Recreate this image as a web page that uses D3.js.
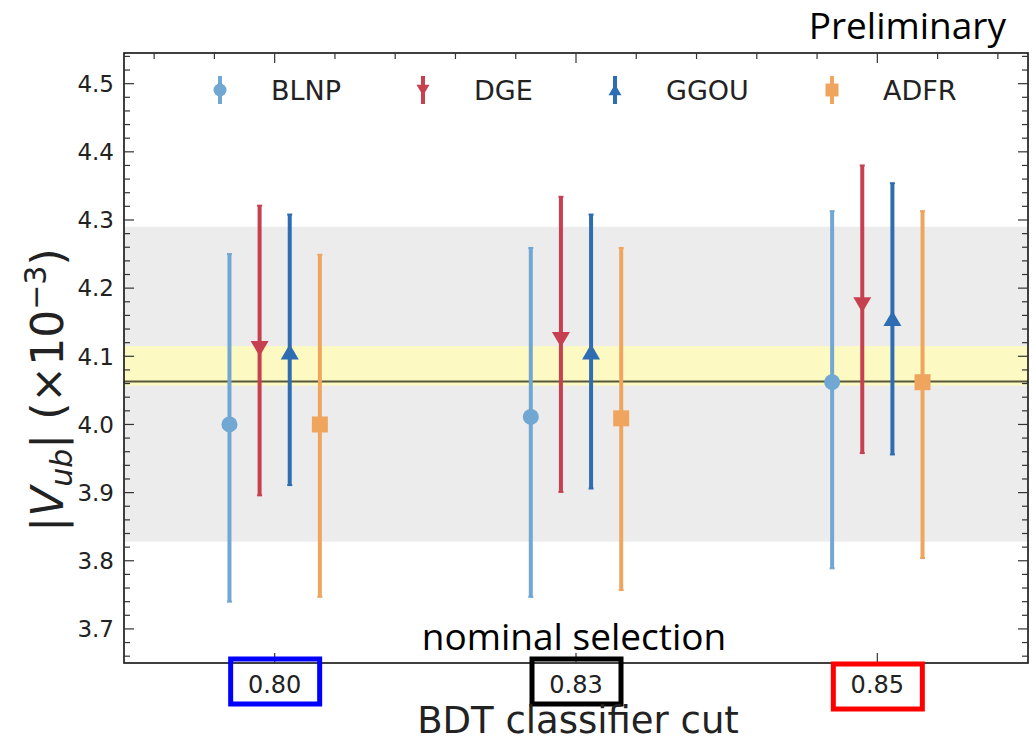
<!DOCTYPE html>
<html>
<head>
<meta charset="utf-8">
<script src="https://cdn.jsdelivr.net/npm/d3@7"></script>
<style>
  html, body { margin: 0; padding: 0; background: #fff; }
  svg { display: block; }
</style>
</head>
<body>
<svg id="chart" width="1033" height="742"></svg>
<script>
// BDT classifier cut values (categorical positions)
const categories = ["0.80", "0.83", "0.85"];
const boxColors = ["#0000ff", "#000000", "#ff0000"];

// |Vub| (x10^-3) per theory calculation, with asymmetric uncertainties
const seriesNames = ["BLNP", "DGE", "GGOU", "ADFR"];
const blnpVal = [4.000, 4.011, 4.062];
const blnpUp  = [0.250, 0.248, 0.251];
const blnpDn  = [0.260, 0.264, 0.273];
const dgeVal  = [4.112, 4.125, 4.176];
const dgeUp   = [0.209, 0.209, 0.204];
const dgeDn   = [0.216, 0.224, 0.218];
const ggouVal = [4.106, 4.106, 4.155];
const ggouUp  = [0.202, 0.202, 0.199];
const ggouDn  = [0.195, 0.200, 0.199];
const adfrVal = [4.000, 4.009, 4.062];
const adfrUp  = [0.249, 0.250, 0.251];
const adfrDn  = [0.253, 0.252, 0.258];

// reference bands and nominal value
const grayBand = [3.828, 4.290];
const yellowBand = [4.057, 4.115];
const nominalLine = 4.063;

const yTicks = [3.7, 3.8, 3.9, 4.0, 4.1, 4.2, 4.3, 4.4, 4.5];

const series = [
  { name: seriesNames[0], val: blnpVal, up: blnpUp, dn: blnpDn, color: "#70a7d3", shape: "circle",  off: -0.15 },
  { name: seriesNames[1], val: dgeVal,  up: dgeUp,  dn: dgeDn,  color: "#c7404f", shape: "tridown", off: -0.05 },
  { name: seriesNames[2], val: ggouVal, up: ggouUp, dn: ggouDn, color: "#2f6db3", shape: "triup",   off:  0.05 },
  { name: seriesNames[3], val: adfrVal, up: adfrUp, dn: adfrDn, color: "#f0a55f", shape: "square",  off:  0.15 }
];

const svg = d3.select("#chart");
const L = 124, R = 1028, T = 53, B = 663;

const x = d3.scaleLinear().domain([-0.5, 2.5]).range([L, R]);
const y = d3.scaleLinear().domain([3.65, 4.545]).range([B, T]);

const clipId = "plotclip";
svg.append("defs").append("clipPath").attr("id", clipId)
  .append("rect").attr("x", L).attr("y", T).attr("width", R - L).attr("height", B - T);

const plot = svg.append("g").attr("clip-path", `url(#${clipId})`);

// bands
plot.append("rect")
  .attr("x", L).attr("width", R - L)
  .attr("y", y(grayBand[1])).attr("height", y(grayBand[0]) - y(grayBand[1]))
  .attr("fill", "#ececec");
plot.append("rect")
  .attr("x", L).attr("width", R - L)
  .attr("y", y(yellowBand[1])).attr("height", y(yellowBand[0]) - y(yellowBand[1]))
  .attr("fill", "#fdf9c2");
plot.append("line")
  .attr("x1", L).attr("x2", R)
  .attr("y1", y(nominalLine)).attr("y2", y(nominalLine))
  .attr("stroke", "#56563a").attr("stroke-width", 2);

function markerPath(shape, s) {
  switch (shape) {
    case "circle": return d3.symbol().type(d3.symbolCircle).size(Math.PI * s * s)();
    case "square": return `M${-s},${-s}H${s}V${s}H${-s}Z`;
    case "tridown": return `M${-s},${-s * 0.8}L${s},${-s * 0.8}L0,${s * 0.9}Z`;
    case "triup": return `M${-s},${s * 0.8}L${s},${s * 0.8}L0,${-s * 0.9}Z`;
  }
}
const markerSize = { circle: 8, square: 8, tridown: 9, triup: 9 };

// error bars and markers
series.forEach(sr => {
  const g = plot.append("g");
  categories.forEach((c, i) => {
    const cx = x(i + sr.off);
    const v = sr.val[i];
    g.append("line")
      .attr("x1", cx).attr("x2", cx)
      .attr("y1", y(v + sr.up[i])).attr("y2", y(v - sr.dn[i]))
      .attr("stroke", sr.color).attr("stroke-width", 4);
    [v + sr.up[i], v - sr.dn[i]].forEach(e => {
      g.append("line")
        .attr("x1", cx - 2.5).attr("x2", cx + 2.5)
        .attr("y1", y(e)).attr("y2", y(e))
        .attr("stroke", sr.color).attr("stroke-width", 2);
    });
    g.append("path")
      .attr("d", markerPath(sr.shape, markerSize[sr.shape]))
      .attr("transform", `translate(${cx},${y(v)})`)
      .attr("fill", sr.color);
  });
});

// frame
svg.append("rect")
  .attr("x", L).attr("y", T).attr("width", R - L).attr("height", B - T)
  .attr("fill", "none").attr("stroke", "#111").attr("stroke-width", 1.6);

// ticks (pointing inwards)
const tickG = svg.append("g").attr("stroke", "#333").attr("stroke-width", 1.2);
const yMinor = d3.range(3.66, 4.545, 0.02);
yMinor.forEach(t => {
  const isMajor = yTicks.some(m => Math.abs(m - t) < 1e-6);
  const len = isMajor ? 10 : 6;
  tickG.append("line").attr("x1", L).attr("x2", L + len).attr("y1", y(t)).attr("y2", y(t));
  tickG.append("line").attr("x1", R).attr("x2", R - len).attr("y1", y(t)).attr("y2", y(t));
});
d3.range(-0.4, 2.5, 0.2).forEach(t => {
  const isMajor = Math.abs(t - Math.round(t)) < 1e-6;
  const len = isMajor ? 10 : 6;
  tickG.append("line").attr("x1", x(t)).attr("x2", x(t)).attr("y1", T).attr("y2", T + len);
});
categories.forEach((c, i) => {
  tickG.append("line").attr("x1", x(i)).attr("x2", x(i)).attr("y1", B).attr("y2", B - 10);
});

// y tick labels
svg.append("g").selectAll("text").data(yTicks).join("text")
  .attr("x", L - 10).attr("y", d => y(d))
  .attr("dy", "0.36em")
  .attr("text-anchor", "end")
  .attr("font-family", "DejaVu Sans").attr("font-size", 23).attr("fill", "#222")
  .text(d => d.toFixed(1));

// x tick labels with coloured boxes
categories.forEach((c, i) => {
  const cx = x(i);
  const by = i === 2 ? 664 : 659;
  svg.append("rect")
    .attr("x", cx - 44).attr("y", by).attr("width", 89).attr("height", 45)
    .attr("fill", "none").attr("stroke", boxColors[i]).attr("stroke-width", 5);
  svg.append("text")
    .attr("x", cx).attr("y", 693)
    .attr("text-anchor", "middle")
    .attr("font-family", "DejaVu Sans").attr("font-size", 24).attr("fill", "#222")
    .text(c);
});

// axis titles
svg.append("text")
  .attr("x", 578).attr("y", 733)
  .attr("text-anchor", "middle")
  .attr("font-family", "DejaVu Sans").attr("font-size", 37).attr("fill", "#222")
  .text("BDT classifier cut");

const yl = svg.append("text")
  .attr("transform", `translate(63,${390}) rotate(-90)`)
  .attr("text-anchor", "middle")
  .attr("font-family", "DejaVu Sans").attr("font-size", 44).attr("fill", "#222");
yl.append("tspan").text("|");
yl.append("tspan").attr("font-style", "italic").text("V");
yl.append("tspan").attr("font-style", "italic").attr("font-size", 30).attr("dy", 9).text("ub");
yl.append("tspan").attr("dy", -9).text("| (×10");
yl.append("tspan").attr("font-size", 30).attr("dy", -17).text("−3");
yl.append("tspan").attr("dy", 17).text(")");

// annotations
svg.append("text")
  .attr("x", 1006).attr("y", 39)
  .attr("text-anchor", "end")
  .attr("font-family", "Open Sans").attr("font-size", 37).attr("fill", "#000")
  .text("Preliminary");
svg.append("text")
  .attr("x", 574).attr("y", 650)
  .attr("text-anchor", "middle")
  .attr("font-family", "Open Sans").attr("font-size", 37).attr("fill", "#000")
  .text("nominal selection");

// legend
const legendMarkerX = [220, 423, 615, 832];
const legendY = 90;
series.forEach((sr, k) => {
  const lx = legendMarkerX[k];
  svg.append("line")
    .attr("x1", lx).attr("x2", lx).attr("y1", legendY - 14).attr("y2", legendY + 14)
    .attr("stroke", sr.color).attr("stroke-width", 4);
  svg.append("path")
    .attr("d", markerPath(sr.shape, 6.5))
    .attr("transform", `translate(${lx},${legendY})`)
    .attr("fill", sr.color);
  svg.append("text")
    .attr("x", lx + 51).attr("y", legendY)
    .attr("dy", "0.36em")
    .attr("font-family", "DejaVu Sans").attr("font-size", 27).attr("fill", "#222")
    .text(sr.name);
});
</script>
</body>
</html>
